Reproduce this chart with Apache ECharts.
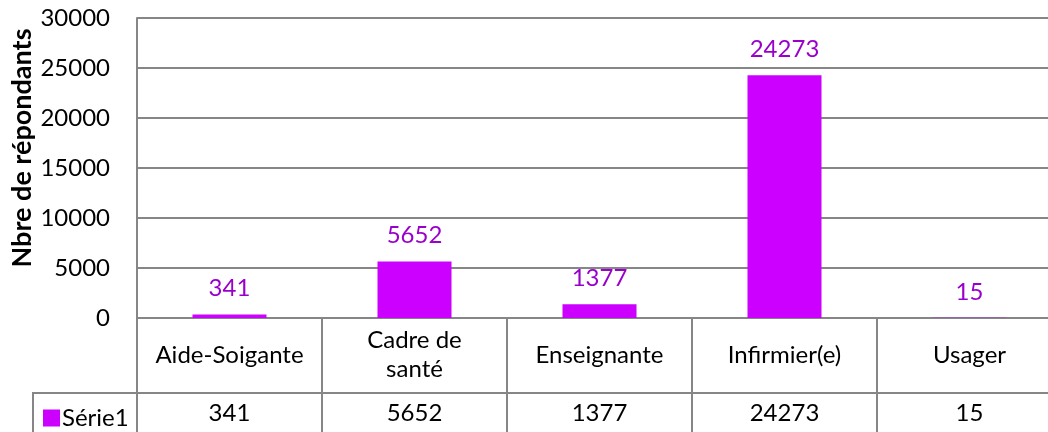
<!DOCTYPE html>
<html>
<head>
<meta charset="utf-8">
<script src="https://cdn.jsdelivr.net/npm/echarts@6/dist/echarts.min.js"></script>
<style>
  html, body { margin: 0; padding: 0; background: #fff; }
  #chart { width: 1048px; height: 432px; }
</style>
</head>
<body>
<div id="chart"></div>
<script>
// données
var categories = ["Aide-Soigante", "Cadre de santé", "Enseignante", "Infirmier(e)", "Usager"];
var values = [341, 5652, 1377, 24273, 15];
var seriesName = "Série1";
var yTicks = [0, 5000, 10000, 15000, 20000, 25000, 30000];

var fontName = "Lato";
var lineColor = "#868686";
var fs = 24;

var chart = echarts.init(document.getElementById("chart"));

var option = {
  animation: false,
  textStyle: { fontFamily: fontName },
  grid: {
    left: 137,
    top: 18,
    width: 925,
    height: 300,
    outerBoundsMode: "none",
  },
  legend: {
    left: 38,
    top: 401,
    itemWidth: 17,
    itemHeight: 17,
    itemGap: 0,
    icon: "rect",
    textStyle: { fontSize: fs, color: "#000", fontFamily: fontName, padding: [0, 0, 0, -3] },
    data: [seriesName],
  },
  xAxis: [
    {
      type: "category",
      data: categories,
      position: "bottom",
      axisLine: { show: true, lineStyle: { color: lineColor, width: 2 } },
      axisTick: { show: true, interval: 0, length: 116, lineStyle: { color: lineColor, width: 2 } },
      axisLabel: {
        interval: 0,
        fontSize: fs,
        color: "#000",
        margin: 37,
        lineHeight: 29,
        verticalAlign: "middle",
        // la case "Cadre de santé" passe sur deux lignes
        formatter: function (v) {
          return v === "Cadre de santé" ? "Cadre de\nsanté" : v;
        },
      },
      splitLine: { show: false },
    },
    {
      type: "category",
      data: values.map(String),
      position: "bottom",
      offset: 75,
      axisLine: { show: true, lineStyle: { color: lineColor, width: 2 } },
      axisTick: { show: false },
      axisLabel: {
        interval: 0,
        fontSize: fs,
        color: "#000",
        margin: 20,
        verticalAlign: "middle",
      },
    },
  ],
  yAxis: {
    type: "value",
    min: yTicks[0],
    max: yTicks[yTicks.length - 1],
    interval: 5000,
    name: "Nbre de répondants",
    nameLocation: "middle",
    nameRotate: 90,
    nameGap: 101,
    nameMoveOverlap: false,
    nameTextStyle: {
      fontSize: 27,
      fontWeight: "bold",
      color: "#000",
      fontFamily: fontName,
      padding: [0, 0, 0, 40], // remonte un peu le titre
    },
    axisLine: { show: true, lineStyle: { color: lineColor, width: 2 } },
    axisTick: { show: false },
    axisLabel: {
      fontSize: fs,
      color: "#000",
      margin: 27,
      formatter: function (v) { return String(v); },
    },
    splitLine: { show: true, lineStyle: { color: lineColor, width: 2 } },
  },
  graphic: [
    // case de gauche de la table (légende)
    {
      type: "polyline",
      shape: { points: [[33, 440], [33, 393], [137, 393]] },
      style: { stroke: lineColor, lineWidth: 2, fill: null },
    },
  ],
  series: [
    {
      name: seriesName,
      type: "bar",
      xAxisIndex: 0,
      barWidth: "40%",
      itemStyle: { color: "#CC00FF" },
      label: {
        show: true,
        position: "top",
        distance: 14,
        fontSize: fs,
        color: "#9900CC",
        fontFamily: fontName,
      },
      data: values,
    },
  ],
};

chart.setOption(option);
window.addEventListener("resize", function () {
  chart.resize();
});
</script>
</body>
</html>
